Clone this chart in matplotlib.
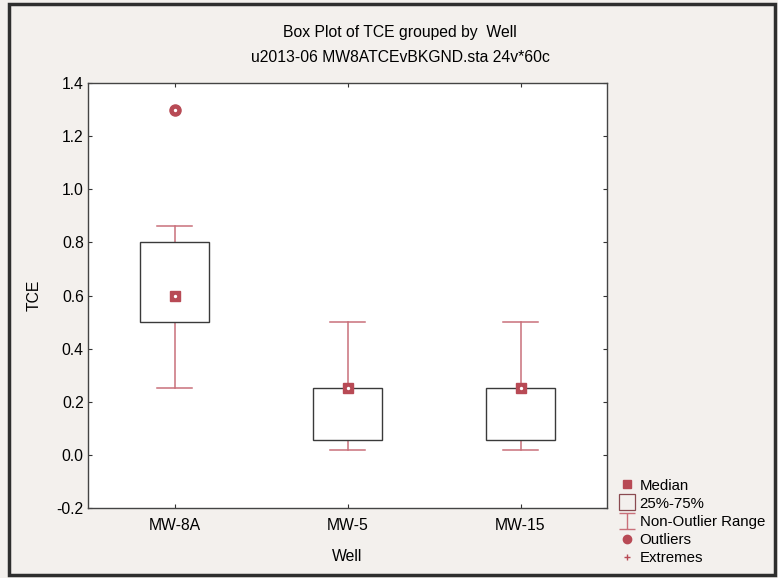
"""Box plot of TCE by well, STATISTICA-style layout."""
import matplotlib

matplotlib.use("Agg")
import matplotlib.pyplot as plt
from matplotlib.lines import Line2D
from matplotlib.patches import Rectangle
from matplotlib.path import Path

plt.rcParams["font.family"] = ["Liberation Sans", "DejaVu Sans"]

wells = ["MW-8A", "MW-5", "MW-15"]
medians = [0.60, 0.25, 0.25]
q1 = [0.50, 0.055, 0.055]
q3 = [0.80, 0.25, 0.25]
whisk_lo = [0.25, 0.02, 0.02]
whisk_hi = [0.86, 0.50, 0.50]
outliers = [[1.30], [], []]
yticks = [-0.2, 0.0, 0.2, 0.4, 0.6, 0.8, 1.0, 1.2, 1.4]

RED = "#b84a55"
WHISK = "#c9707a"
BOX = "#3a3a3a"
BG = "#f3f0ed"
FS = 11.3

fig = plt.figure(figsize=(7.78, 5.78), dpi=100, facecolor=BG)
ax = fig.add_axes([88 / 778, 70 / 578, 519 / 778, 425 / 578])
ax.set_facecolor("white")

box_w = 0.4
cap_w = 0.2
for i, w in enumerate(wells):
    x = i + 1
    # whiskers and caps
    ax.plot([x, x], [q3[i], whisk_hi[i]], color=WHISK, lw=1.1, zorder=2)
    ax.plot([x, x], [whisk_lo[i], q1[i]], color=WHISK, lw=1.1, zorder=2)
    ax.plot([x - cap_w / 2, x + cap_w / 2], [whisk_hi[i]] * 2, color=WHISK, lw=1.1, zorder=2)
    ax.plot([x - cap_w / 2, x + cap_w / 2], [whisk_lo[i]] * 2, color=WHISK, lw=1.1, zorder=2)
    # 25%-75% box
    ax.add_patch(Rectangle((x - box_w / 2, q1[i]), box_w, q3[i] - q1[i],
                           facecolor="white", edgecolor=BOX, lw=1.0, zorder=3))
    # median marker with white centre dot
    ax.plot([x], [medians[i]], marker="s", ms=7.5, color=RED, mec=RED, ls="none", zorder=4)
    ax.plot([x], [medians[i]], marker="o", ms=1.4, color="white", mec="white", ls="none", zorder=5)
    for o in outliers[i]:
        ax.plot([x], [o], marker="o", ms=8, color=RED, mec=RED, ls="none", zorder=4)
        ax.plot([x], [o], marker="o", ms=1.4, color="white", mec="white", ls="none", zorder=5)

ax.set_xlim(0.5, 3.5)
ax.set_ylim(-0.2, 1.4)
ax.set_xticks(range(1, len(wells) + 1))
ax.set_xticklabels(wells, fontsize=FS)
ax.set_yticks(yticks)
ax.set_yticklabels([f"{v:.1f}" for v in yticks], fontsize=FS)
ax.tick_params(direction="in", length=3, width=0.8, color="#333333",
               top=True, right=True)
ax.tick_params(axis="x", pad=7)
ax.tick_params(axis="y", pad=3)
for s in ax.spines.values():
    s.set_color("#444444")
    s.set_linewidth(1.0)

ax.set_xlabel("Well", fontsize=FS, labelpad=12)
ax.set_ylabel("TCE", fontsize=FS, labelpad=11)

fig.text(400 / 778, 1 - 33 / 578, "Box Plot of TCE grouped by  Well",
         ha="center", va="center", fontsize=FS)
fig.text(400 / 778, 1 - 58 / 578, "u2013-06 MW8ATCEvBKGND.sta 24v*60c",
         ha="center", va="center", fontsize=FS)

# legend handles
ibeam = Path([(-1, 1), (1, 1), (0, 1), (0, -1), (-1, -1), (1, -1)],
             [Path.MOVETO, Path.LINETO, Path.MOVETO, Path.LINETO, Path.MOVETO, Path.LINETO])
handles = [
    Line2D([], [], marker="s", ms=6, color=RED, ls="none"),
    Line2D([], [], marker="s", ms=11, mfc="none", mec="#8a4a50", mew=0.9, ls="none"),
    Line2D([], [], marker=ibeam, ms=12, color=WHISK, mew=1.0, ls="none"),
    Line2D([], [], marker="o", ms=6, color=RED, ls="none"),
    Line2D([], [], marker="+", ms=5, color=RED, mew=1.0, ls="none"),
]
labels = ["Median", "25%-75%", "Non-Outlier Range", "Outliers", "Extremes"]
fig.legend(handles, labels, loc="upper left",
           bbox_to_anchor=(612 / 778, 1 - 471 / 578), frameon=False,
           fontsize=FS - 0.5, handlelength=1.0, handletextpad=0.35,
           labelspacing=0.28, borderpad=0)

# outer frame
fig.add_artist(Rectangle((9 / 778, 3 / 578), 766 / 778, 571 / 578,
                         transform=fig.transFigure, fill=False,
                         edgecolor="#2e2e2e", lw=2.5))

fig.savefig("out.png", dpi=100, facecolor=BG)
